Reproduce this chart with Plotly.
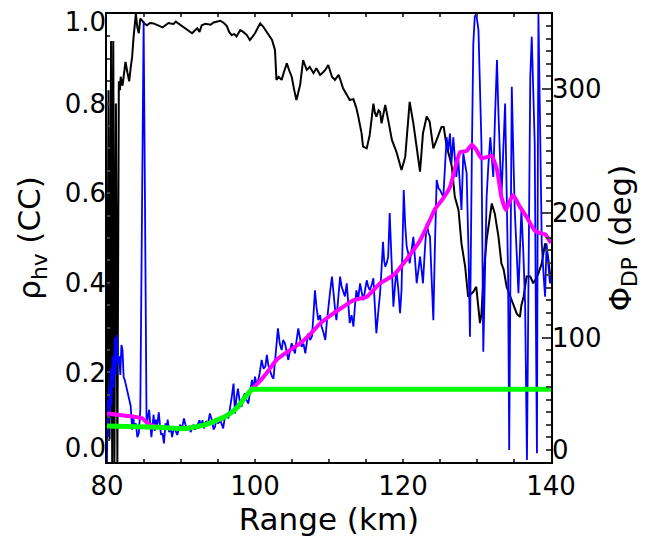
import plotly.graph_objects as go

# ---------------- data ----------------
rho_km = [80.0, 80.2, 80.35, 80.55, 80.7, 80.85, 81.0, 81.2, 81.4, 81.6, 81.75, 81.85, 82.1, 82.3,
          82.5, 82.75, 83.0, 83.2, 83.4, 83.6, 83.9, 84.1, 84.3, 84.5, 84.8, 85.1, 85.4, 85.8, 86.3,
          86.8, 87.2, 87.5, 87.9, 88.3, 88.6, 89.0, 89.3, 89.7, 90.2, 90.6, 91.0, 91.5, 91.8, 92.2,
          92.5, 92.8, 93.3, 94.0, 94.4, 94.9, 95.3, 95.8, 96.2, 96.5, 96.85, 97.2, 97.5, 98.0, 98.4,
          98.9, 99.3, 99.6, 100.0, 100.4, 100.7, 101.1, 101.6, 102.0, 102.3, 102.7, 102.9, 103.2,
          103.6, 103.9, 104.3, 104.6, 104.96, 105.3, 105.6, 105.85, 106.1, 106.5, 107.0, 107.4,
          107.9, 108.3, 108.8, 109.2, 109.5, 109.9, 110.2, 110.4, 110.8, 111.3, 111.6, 111.9, 112.4,
          112.8, 113.3, 113.7, 113.96, 114.4, 114.6, 115.1, 115.5, 116.0, 116.2, 116.4, 116.7, 116.9,
          117.1, 117.6, 118.0, 118.5, 119.1, 119.6, 119.8, 120.3, 120.5, 120.9, 121.4, 121.85, 122.3,
          122.7, 123.2, 123.6, 124.1, 124.55, 125.2, 125.5, 125.9, 126.3, 126.6, 127.0, 127.5, 127.9,
          128.2, 128.4, 128.8, 129.3, 129.5, 129.9, 130.2, 130.4, 130.6, 130.9, 131.3, 132.0, 132.4,
          132.9, 133.3, 133.6, 134.0, 134.5, 134.7, 135.1, 135.4, 135.8, 136.0, 136.3, 136.7, 137.2,
          137.6, 138.0, 138.3, 138.75, 139.2, 139.6, 140.0]
rho_hv = [0.02, 0.83, 0.05, 0.94, 0.0, 0.94, 0.0, 0.80, 0.0, 0.85, 0.83, 0.86, 0.84, 0.87,
          0.893, 0.87, 0.85, 0.88, 0.905, 0.95, 1.0, 0.97, 0.957, 0.99, 0.983, 0.978, 0.975, 0.98, 0.979,
          0.975, 0.972, 0.97, 0.975, 0.98, 0.979, 0.978, 0.983, 0.978, 0.972, 0.968, 0.963, 0.957, 0.962, 0.968,
          0.96, 0.975, 0.978, 0.976, 0.981, 0.984, 0.985, 0.98, 0.973, 0.96, 0.953, 0.955, 0.95, 0.964, 0.96,
          0.953, 0.942, 0.948, 0.957, 0.97, 0.979, 0.972, 0.96, 0.95, 0.942, 0.92, 0.853, 0.86,
          0.853, 0.87, 0.89, 0.875, 0.86, 0.83, 0.808, 0.825, 0.842, 0.897, 0.875, 0.882,
          0.868, 0.879, 0.864, 0.87, 0.875, 0.886, 0.87, 0.86, 0.853, 0.864, 0.85, 0.834, 0.82,
          0.808, 0.81, 0.79, 0.771, 0.734, 0.704, 0.70, 0.73, 0.80, 0.78, 0.771, 0.785, 0.782,
          0.756, 0.797, 0.763, 0.719, 0.693, 0.667, 0.652, 0.681, 0.73, 0.804, 0.756, 0.704, 0.648,
          0.734, 0.771, 0.76, 0.70, 0.719, 0.748, 0.748, 0.704, 0.68, 0.659, 0.592, 0.5625, 0.488,
          0.45, 0.436, 0.369, 0.377, 0.38, 0.391, 0.35, 0.31, 0.33, 0.42, 0.496, 0.577, 0.555,
          0.503, 0.443, 0.43, 0.391, 0.369, 0.362, 0.345, 0.33, 0.324, 0.35, 0.369, 0.414, 0.414,
          0.399, 0.41, 0.421, 0.443, 0.488, 0.458, 0.40]

phi_km = [80.0, 80.05, 80.15, 80.25, 80.35, 80.5, 80.6, 80.75, 80.9, 81.05, 81.2, 81.35, 81.5, 81.65,
          81.8, 81.95, 82.1, 82.25, 82.4, 82.55, 82.7, 82.85, 83.0, 83.2, 83.4, 83.55, 83.7, 83.9, 84.1,
          84.3, 84.5, 84.6, 84.7, 84.8, 84.95, 85.05, 85.15, 85.25, 85.35, 85.5, 85.7, 85.85, 86.0,
          86.1, 86.3, 86.45, 86.6, 86.8, 87.0, 87.15, 87.3, 87.5, 87.7, 87.9, 88.05, 88.2, 88.4, 88.6,
          88.8, 89.05, 89.3, 89.5, 89.7, 89.9, 90.1, 90.4, 90.6, 90.85, 91.1, 91.3, 91.5, 91.7, 91.9,
          92.2, 92.5, 92.7, 92.9, 93.1, 93.4, 93.6, 93.9, 94.2, 94.4, 94.6, 94.8, 95.0, 95.3, 95.5,
          95.7, 95.9, 96.2, 96.4, 96.6, 96.85, 97.1, 97.3, 97.5, 97.7, 97.95, 98.2, 98.4, 98.6, 98.85,
          99.1, 99.35, 99.6, 99.8, 100.0, 100.2, 100.4, 100.65, 100.9, 101.15, 101.4, 101.6, 101.8,
          102.05, 102.3, 102.5, 102.7, 102.9, 103.1, 103.35, 103.6, 103.8, 104.05, 104.3, 104.5,
          104.75, 104.96, 105.2, 105.4, 105.6, 105.85, 106.1, 106.3, 106.55, 106.8, 107.0, 107.2,
          107.45, 107.7, 107.9, 108.1, 108.3, 108.55, 108.8, 109.0, 109.25, 109.5, 109.7, 109.9,
          110.15, 110.4, 110.6, 110.8, 111.0, 111.25, 111.5, 111.7, 111.9, 112.15, 112.4, 112.6,
          112.8, 113.05, 113.3, 113.5, 113.7, 113.95, 114.2, 114.4, 114.65, 114.9, 115.1, 115.3,
          115.5, 115.75, 116.0, 116.2, 116.4, 116.65, 116.9, 117.1, 117.3, 117.45, 117.6, 117.8,
          118.0, 118.2, 118.45, 118.7, 118.9, 119.1, 119.35, 119.6, 119.8, 120.1, 120.3, 120.5,
          120.7, 120.9, 121.15, 121.4, 121.6, 121.85, 122.1, 122.3, 122.5, 122.7, 122.95, 123.2,
          123.45, 123.65, 123.85, 124.1, 124.3, 124.55, 124.8, 125.0, 125.2, 125.45, 125.7, 125.9,
          126.1, 126.35, 126.55, 126.8, 127.0, 127.2, 127.45, 127.7, 127.9, 128.15, 128.4, 128.6,
          128.85, 129.05, 129.3, 129.5, 129.7, 129.9, 130.2, 130.4, 130.6, 130.85, 131.1, 131.3,
          131.55, 131.8, 132.0, 132.2, 132.45, 132.7, 132.9, 133.1, 133.3, 133.55, 133.8, 134.0,
          134.2, 134.35, 134.55, 134.7, 134.9, 135.1, 135.35, 135.6, 135.8, 136.0, 136.25, 136.5,
          136.75, 136.95, 137.2, 137.4, 137.6, 137.8, 137.95, 138.1, 138.2, 138.3, 138.5, 138.75,
          139.0, 139.2, 139.4, 139.6, 139.86, 140.0]
phi_dp = [0, 50, 20, 60, 35, 75, 45, 85, 60, 100, 70, 102, 79, 85,
          70, 94, 90, 68, 66, 62, 60, 55, 52, 45, 26, 36, 28, 31, 20,
          23, 42, 108, 220, 296, 354, 277, 180, 95, 28, 35, 42, 30, 20,
          26, 38, 25, 34, 30, 40, 30, 22, 23, 15, 31, 26, 34, 24, 28,
          20, 28, 25, 21.7, 27, 30, 26, 35, 30, 25.7, 29, 24, 27, 30, 26,
          29, 33.7, 28, 33.7, 27, 33, 29, 39, 33, 26, 28.4, 35, 31, 33.7, 30,
          27, 35, 39, 35, 41.5, 52, 63, 39, 52, 59, 48, 44.5, 52, 55, 50,
          47, 57, 66, 58, 68.6, 63, 64.5, 72, 82, 75, 76.6, 86, 78,
          73, 68.6, 67, 80, 92.6, 107.4, 95, 90, 98, 95.4, 88, 82,
          90, 95.4, 91, 87.3, 97, 107.4, 99, 92.6, 95, 87.3, 96, 103.4,
          98, 101, 118, 138, 125, 114, 118, 108.7, 104, 98, 112, 124.8,
          137, 149, 133, 124, 114, 130, 149, 141, 138, 133, 143.6, 125,
          111.6, 118, 108.7, 125, 138, 131, 143.6, 137, 130, 139, 146, 141,
          138, 142, 147.6, 125, 103.4, 120, 135.6, 155, 177, 162, 157, 160,
          165, 200, 160, 124.8, 140, 154, 140, 119.5, 138, 218.6, 190, 173,
          168, 159.7, 170, 181, 165, 143.6, 155, 165, 155, 143.6, 170, 191.8,
          184, 181, 150, 114, 170, 226.6, 220, 218.6, 216, 213, 240, 261,
          250, 264, 240, 261, 245, 229, 245, 215, 202.5, 248, 240, 232,
          170, 100.7, 245, 336, 358, 360, 347, 296, 256, 88.7, 170, 213,
          240, 261, 245, 229, 280, 323, 280, 242.7, 213, 250, 288, 220,
          149, 9.6, 200, 301.6, 250, 202.5, 170, 135.6, 170, 202.5, 170, 127.5,
          1.6, 150, 309.6, 341.8, 300, 256, 120, 7, 200, 360, 280, 175.7,
          150, 132.8, 175.7, 160, 143.6, 150]

smooth_km = [80.0, 82.0, 83.5, 84.8, 85.5, 86.5, 88.0, 90.0, 92.0, 93.0, 94.0, 95.3, 96.2, 97.1,
             98.4, 99.55, 100.5, 101.5, 102.9, 104.5, 106.1, 107.5, 108.8, 110.6, 112.0, 113.3,
             115.1, 116.9, 118.7, 120.5, 122.3, 123.65, 124.3, 125.45, 126.35, 127.0, 127.7,
             128.6, 129.3, 129.9, 130.6, 131.3, 132.0, 132.7, 133.3, 133.9, 134.5, 134.9, 135.8,
             136.7, 137.8, 138.5, 139.2, 140.0]
smooth_phi = [39, 37.5, 36.5, 35, 31, 28.5, 27.5, 26.8, 28, 29.5, 31.5, 34, 37.5, 41,
              50, 58.4, 64, 71, 82, 89, 95.4, 103, 111.4, 119.5, 125, 130,
              132.8, 143.6, 150, 163, 178, 194.5, 203, 212, 221, 235, 249,
              250, 255, 251, 244, 245, 246, 235, 213, 202.5, 210.5, 214.6, 205,
              197, 186, 184, 183, 176]

fit_km = [80.0, 84.0, 86.0, 87.0, 88.0, 89.0, 90.0, 91.0, 92.0, 93.0, 94.0, 95.0, 96.0, 97.0,
          97.8, 98.4, 99.0, 99.55, 140.0]
fit_phi = [29, 28.8, 28.5, 28, 27.5, 27, 26.8, 27.2, 28, 29.5, 31.5, 33.5, 36.5, 40.5,
           45, 50, 54.5, 58.4, 58.4]

x_ticks = [80, 100, 120, 140]
rho_ticks = [0.0, 0.2, 0.4, 0.6, 0.8, 1.0]
rho_labels = ["0.0", "0.2", "0.4", "0.6", "0.8", "1.0"]
rho_label_pos = [0.031, 0.2, 0.4, 0.6, 0.8, 0.983]   # end labels nudged inside, as in the original
phi_ticks = [0, 100, 200, 300]
phi_labels = ["0", "100", "200", "300"]
phi_label_pos = [9.6, 100, 200, 300]

# ---------------- figure ----------------
FONT = "DejaVu Sans, Liberation Sans, Arial, sans-serif"
FS = 26

fig = go.Figure()
fig.add_trace(go.Scatter(x=rho_km, y=rho_hv, mode="lines", yaxis="y",
                         line=dict(color="black", width=2), showlegend=False))
fig.add_trace(go.Scatter(x=phi_km, y=phi_dp, mode="lines", yaxis="y2",
                         line=dict(color="#0000FF", width=1.8), showlegend=False))
fig.add_trace(go.Scatter(x=smooth_km, y=smooth_phi, mode="lines", yaxis="y2",
                         line=dict(color="#FF00FF", width=4, shape="spline", smoothing=0.4),
                         showlegend=False))
fig.add_trace(go.Scatter(x=fit_km, y=fit_phi, mode="lines", yaxis="y2",
                         line=dict(color="#00FF00", width=5), showlegend=False))
# empty traces so the label-only axes are created
fig.add_trace(go.Scatter(x=[None], y=[None], yaxis="y3", showlegend=False, hoverinfo="skip"))
fig.add_trace(go.Scatter(x=[None], y=[None], yaxis="y4", showlegend=False, hoverinfo="skip"))

fig.update_layout(
    width=646, height=540,
    margin=dict(l=107, r=95, t=14, b=78),
    paper_bgcolor="white", plot_bgcolor="white",
    font=dict(family=FONT, size=FS, color="black"),
    xaxis=dict(range=[80, 140], tickvals=x_ticks, ticks="inside", ticklen=3, tickwidth=1.5,
               showline=True, linecolor="black", linewidth=1.5, mirror="ticks",
               showgrid=False, zeroline=False, automargin=False,
               minor=dict(dtick=5, tick0=80, ticks="inside", ticklen=3, tickwidth=1.5,
                          showgrid=False),
               title=dict(text="Range (km)", standoff=4),
               tickfont=dict(size=FS)),
    # left axis: line + ticks
    yaxis=dict(range=[0, 1], tickvals=rho_ticks, showticklabels=False, ticks="inside",
               ticklen=3, tickwidth=1.5, showline=True, linecolor="black", linewidth=1.5,
               showgrid=False, zeroline=False, automargin=False,
               minor=dict(dtick=0.05, tick0=0, ticks="inside", ticklen=3, tickwidth=1.5,
                          showgrid=False)),
    # left axis: labels + title
    yaxis4=dict(range=[0, 1], overlaying="y", side="left", tickvals=rho_label_pos,
                ticktext=rho_labels, ticks="", showline=False, showgrid=False,
                zeroline=False, automargin=False, tickfont=dict(size=FS),
                title=dict(text="ρ<sub>hv</sub> (CC)", standoff=14)),
    # right axis: line + ticks
    yaxis2=dict(range=[0, 360], tickvals=phi_ticks, overlaying="y", side="right",
                showticklabels=False, ticks="inside", ticklen=9, tickwidth=1.5,
                showline=True, linecolor="black", linewidth=1.5, showgrid=False,
                zeroline=False, automargin=False,
                minor=dict(dtick=10, tick0=0, ticks="inside", ticklen=5, tickwidth=1.5,
                           showgrid=False)),
    # right axis: labels + title
    yaxis3=dict(range=[0, 360], overlaying="y", side="right", tickvals=phi_label_pos,
                ticktext=phi_labels, ticks="", showline=False, showgrid=False,
                zeroline=False, automargin=False, tickfont=dict(size=FS),
                title=dict(text="Φ<sub>DP</sub> (deg)", standoff=6)),
)

fig.write_html("out.html", config={"displayModeBar": False},
               post_script="document.body.style.margin='0px';document.body.style.overflow='hidden';")
